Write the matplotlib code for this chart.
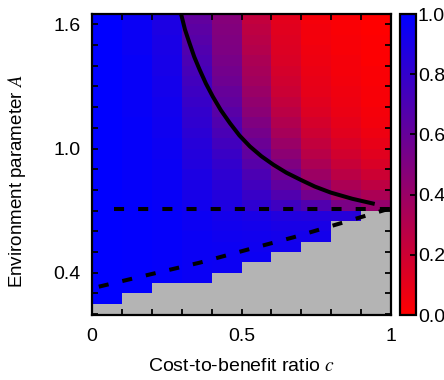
import numpy as np
import matplotlib
matplotlib.use("Agg")
import matplotlib.pyplot as plt
from matplotlib.colors import LinearSegmentedColormap
from matplotlib.ticker import MultipleLocator

plt.rcParams["font.family"] = ["Liberation Sans", "DejaVu Sans"]
plt.rcParams["mathtext.fontset"] = "stix"

# cell edges
c_edges = np.linspace(0, 1, 11)
A_rows = [1.60 - 0.05 * i for i in range(29)]   # lower edge of each row, top to bottom

# cooperation level per column (c = 0..0.1, ..., 0.9..1.0), rows from A=1.60 down to A=0.20
col0 = [1.0] * 29
col1 = [0.96, 0.96, 0.96, 0.96, 0.97, 0.97, 0.97, 0.97, 0.97, 0.97, 0.98, 0.98, 0.98, 0.98, 0.98,
        0.98, 0.98, 0.99, 0.99, 0.99, 0.99, 0.99, 0.99, 0.99, 0.99, 0.99, 0.99, 0.99, 0.99]
col2 = [0.89, 0.89, 0.90, 0.90, 0.91, 0.91, 0.92, 0.92, 0.93, 0.93, 0.94, 0.94, 0.95, 0.95, 0.96,
        0.96, 0.96, 0.97, 0.97, 0.98, 0.98, 0.98, 0.98, 0.98, 0.98, 0.98, 0.98, 0.98, 0.98]
col3 = [0.62, 0.64, 0.66, 0.68, 0.70, 0.72, 0.74, 0.76, 0.78, 0.80, 0.81, 0.83, 0.85, 0.86, 0.87,
        0.89, 0.90, 0.91, 0.93, 0.95, 0.95, 0.96, 0.96, 0.96, 0.96, 0.96, 0.96, 0.96, 0.96]
col4 = [0.48, 0.49, 0.50, 0.51, 0.53, 0.55, 0.57, 0.60, 0.62, 0.65, 0.68, 0.71, 0.74, 0.77, 0.80,
        0.82, 0.84, 0.86, 0.88, 0.92, 0.93, 0.94, 0.95, 0.95, 0.95, 0.95, 0.95, 0.95, 0.95]
col5 = [0.24, 0.26, 0.28, 0.30, 0.33, 0.35, 0.37, 0.40, 0.43, 0.46, 0.50, 0.54, 0.58, 0.62, 0.66,
        0.70, 0.74, 0.78, 0.82, 0.90, 0.92, 0.93, 0.94, 0.95, 0.95, 0.95, 0.95, 0.95, 0.95]
col6 = [0.11, 0.12, 0.13, 0.14, 0.15, 0.17, 0.19, 0.21, 0.24, 0.27, 0.31, 0.35, 0.40, 0.45, 0.50,
        0.56, 0.62, 0.68, 0.75, 0.87, 0.90, 0.92, 0.93, 0.94, 0.94, 0.94, 0.94, 0.94, 0.94]
col7 = [0.04, 0.05, 0.05, 0.06, 0.07, 0.08, 0.09, 0.10, 0.12, 0.14, 0.17, 0.20, 0.24, 0.28, 0.33,
        0.39, 0.46, 0.55, 0.68, 0.86, 0.90, 0.92, 0.93, 0.93, 0.93, 0.93, 0.93, 0.93, 0.93]
col8 = [0.02, 0.02, 0.03, 0.03, 0.04, 0.04, 0.05, 0.06, 0.07, 0.08, 0.10, 0.12, 0.15, 0.18, 0.22,
        0.27, 0.33, 0.40, 0.52, 0.85, 0.88, 0.90, 0.90, 0.90, 0.90, 0.90, 0.90, 0.90, 0.90]
col9 = [0.00, 0.00, 0.01, 0.01, 0.01, 0.02, 0.02, 0.03, 0.03, 0.04, 0.05, 0.07, 0.09, 0.12, 0.15,
        0.20, 0.26, 0.33, 0.42, 0.80, 0.85, 0.88, 0.88, 0.88, 0.88, 0.88, 0.88, 0.88, 0.88]

# lowest A for which the state exists in each column (gray below)
A_min = [0.25, 0.30, 0.35, 0.35, 0.40, 0.45, 0.50, 0.55, 0.65, 0.70]

# theory curves
solid_c = [0.298, 0.311, 0.326, 0.342, 0.360, 0.381, 0.404, 0.431, 0.461, 0.493, 0.528,
           0.566, 0.607, 0.650, 0.697, 0.745, 0.798, 0.870, 0.945]
solid_A = [1.650, 1.575, 1.510, 1.443, 1.381, 1.314, 1.251, 1.185, 1.123, 1.063, 1.010,
           0.963, 0.921, 0.883, 0.849, 0.816, 0.787, 0.757, 0.732]
diag_c = [0.023, 0.202, 0.360, 0.517, 0.674, 0.832, 1.0]
diag_A = [0.332, 0.394, 0.448, 0.510, 0.571, 0.639, 0.712]
horiz_c = [0.075, 1.0]
horiz_A = [0.7071, 0.7071]

cols = [col0, col1, col2, col3, col4, col5, col6, col7, col8, col9]
Z = np.array(cols).T[::-1]          # rows bottom to top
A_low = np.array(A_rows[::-1])
A_edges = np.append(A_low, A_low[-1] + 0.05)
mask = A_low[:, None] < np.array(A_min)[None, :] - 1e-6
Z = np.ma.array(Z, mask=mask)

cmap = LinearSegmentedColormap.from_list("rb", ["#ff0000", "#0000ff"])

fig = plt.figure(figsize=(4.44, 3.80), dpi=100)
ax = fig.add_axes([0.207, 0.171, 0.674, 0.792])
cax = fig.add_axes([0.901, 0.171, 0.037, 0.792])

ax.set_facecolor("#b4b4b4")
mesh = ax.pcolormesh(c_edges, A_edges, Z, cmap=cmap, vmin=0, vmax=1, shading="flat")

lw = 2.9
ax.plot(solid_c, solid_A, color="black", lw=lw, solid_capstyle="butt", solid_joinstyle="round")
ax.plot(diag_c, diag_A, color="black", lw=lw, dashes=(2.5, 3.5), dash_capstyle="butt")
ax.plot(horiz_c, horiz_A, color="black", lw=lw, dashes=(2.5, 3.5), dash_capstyle="butt")

ax.set_xlim(0, 1)
ax.set_ylim(0.195, 1.65)
ax.set_xticks([0, 0.5, 1])
ax.set_xticklabels(["0", "0.5", "1"])
ax.set_yticks([0.4, 1.0, 1.6])
ax.set_yticklabels(["0.4", "1.0", "1.6"])
ax.xaxis.set_minor_locator(MultipleLocator(0.1))
ax.yaxis.set_minor_locator(MultipleLocator(0.1))
ax.tick_params(which="both", direction="in", top=True, right=True, length=4.5, width=1.3,
               labelsize=14)
ax.tick_params(axis="x", pad=9)
ax.tick_params(axis="y", pad=8)
for s in ax.spines.values():
    s.set_linewidth(1.6)

ax.set_xlabel("Cost-to-benefit ratio $c$", fontsize=14)
ax.set_ylabel("Environment parameter $A$", fontsize=13.5)
ax.xaxis.set_label_coords(0.5, -0.142)
ax.yaxis.set_label_coords(-0.215, 0.445)

cb = fig.colorbar(mesh, cax=cax)
cb.set_ticks([0, 0.2, 0.4, 0.6, 0.8, 1.0])
cb.set_ticklabels(["0.0", "0.2", "0.4", "0.6", "0.8", "1.0"])
cax.tick_params(direction="in", length=4.5, width=1.3, labelsize=14, pad=1)
cb.outline.set_linewidth(1.6)

fig.savefig("out.png", dpi=100)
